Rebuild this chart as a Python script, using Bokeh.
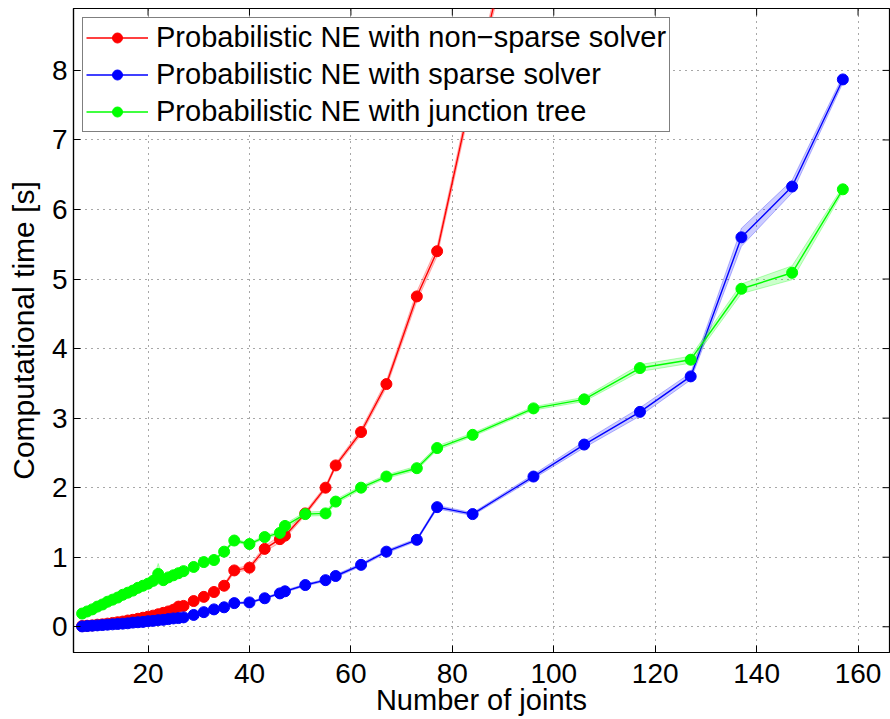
from bokeh.plotting import figure
from bokeh.models import Legend, LegendItem, Range1d, FixedTicker
from bokeh.embed import file_html
from bokeh.resources import INLINE

# ---- data ----
joints = [7, 8, 9, 10, 11, 12, 13, 14, 15, 16, 17, 18, 19, 20, 21, 22, 23, 24, 25, 26, 27,
          29, 31, 33, 35, 37, 40, 43, 46, 47, 51, 55, 57, 62, 67, 73, 77, 84, 96,
          106, 117, 127, 137, 147, 157]
joints_red = [7, 8, 9, 10, 11, 12, 13, 14, 15, 16, 17, 18, 19, 20, 21, 22, 23, 24, 25, 26, 27,
              29, 31, 33, 35, 37, 40, 43, 46, 47, 51, 55, 57, 62, 67, 73, 77, 84, 96]

time_nonsparse = [0.01, 0.015, 0.02, 0.03, 0.035, 0.045, 0.055, 0.065, 0.075, 0.09, 0.10,
                  0.115, 0.13, 0.145, 0.16, 0.18, 0.20, 0.22, 0.245, 0.29, 0.30,
                  0.37, 0.43, 0.50, 0.59, 0.81, 0.85, 1.12, 1.26, 1.31, 1.63, 2.00, 2.32,
                  2.80, 3.49, 4.75, 5.40, 7.72, 11.2]
spread_nonsparse = [0.005, 0.005, 0.005, 0.005, 0.005, 0.005, 0.006, 0.006, 0.007, 0.007, 0.008,
                    0.008, 0.009, 0.01, 0.01, 0.012, 0.012, 0.014, 0.02, 0.035, 0.025,
                    0.02, 0.02, 0.02, 0.025, 0.03, 0.03, 0.04, 0.05, 0.04, 0.03, 0.03, 0.03,
                    0.04, 0.05, 0.07, 0.07, 0.09, 0.1]

time_sparse = [0.005, 0.01, 0.015, 0.02, 0.025, 0.03, 0.035, 0.04, 0.045, 0.05, 0.06,
               0.065, 0.07, 0.08, 0.085, 0.095, 0.10, 0.11, 0.12, 0.125, 0.135,
               0.17, 0.21, 0.25, 0.28, 0.34, 0.35, 0.41, 0.48, 0.51, 0.60, 0.67, 0.73,
               0.89, 1.08, 1.25, 1.72, 1.62, 2.16, 2.62, 3.09, 3.60, 5.60, 6.33, 7.87]
spread_sparse = [0.004, 0.004, 0.004, 0.004, 0.004, 0.004, 0.004, 0.005, 0.005, 0.005, 0.005,
                 0.005, 0.006, 0.006, 0.006, 0.007, 0.007, 0.007, 0.008, 0.008, 0.008,
                 0.01, 0.01, 0.01, 0.01, 0.012, 0.012, 0.012, 0.015, 0.015, 0.015, 0.015, 0.02,
                 0.02, 0.02, 0.02, 0.025, 0.02, 0.03, 0.045, 0.06, 0.05, 0.13, 0.09, 0.05]

time_junction = [0.19, 0.22, 0.25, 0.29, 0.32, 0.36, 0.39, 0.42, 0.46, 0.49, 0.52,
                 0.56, 0.59, 0.62, 0.66, 0.76, 0.67, 0.71, 0.74, 0.77, 0.80,
                 0.86, 0.93, 0.96, 1.08, 1.24, 1.19, 1.29, 1.35, 1.45, 1.62, 1.63, 1.80,
                 2.00, 2.16, 2.28, 2.57, 2.76, 3.14, 3.27, 3.72, 3.84, 4.86, 5.09, 6.29]
spread_junction = [0.008, 0.008, 0.008, 0.008, 0.008, 0.008, 0.008, 0.008, 0.008, 0.008, 0.008,
                   0.008, 0.008, 0.01, 0.01, 0.15, 0.02, 0.015, 0.015, 0.015, 0.015,
                   0.015, 0.015, 0.02, 0.02, 0.02, 0.02, 0.02, 0.025, 0.03, 0.03, 0.03, 0.03,
                   0.025, 0.025, 0.03, 0.03, 0.025, 0.025, 0.03, 0.05, 0.05, 0.07, 0.1, 0.04]

labels = ["Probabilistic NE with non\u2212sparse solver",
          "Probabilistic NE with sparse solver",
          "Probabilistic NE with junction tree"]
colors = ["#ff0000", "#0000ff", "#00ff00"]
x_ticks = [20, 40, 60, 80, 100, 120, 140, 160]
y_ticks = [0, 1, 2, 3, 4, 5, 6, 7, 8]
x_title = "Number of joints"
y_title = "Computational time [s]"

FONT = "Liberation Sans"
X0, X1 = 5.3, 166.2
Y0, Y1 = -0.37, 8.89
W, H = 890, 719
BL, BR, BT, BB = 73, 1, 8, 67

p = figure(width=W, height=H, output_backend="svg", toolbar_location=None,
           x_range=Range1d(X0, X1), y_range=Range1d(Y0, Y1),
           min_border_left=BL, min_border_right=BR, min_border_top=BT, min_border_bottom=BB,
           x_axis_label=x_title, y_axis_label=y_title)
p.background_fill_color = "white"
p.border_fill_color = "white"
p.outline_line_color = "black"
p.outline_line_width = 1.2

for ax, ticks in ((p.xaxis[0], x_ticks), (p.yaxis[0], y_ticks)):
    ax.ticker = FixedTicker(ticks=ticks, minor_ticks=[])
    ax.major_tick_in = 7
    ax.major_tick_out = 0
    ax.axis_line_color = "black"
    ax.axis_line_width = 1.2
    ax.major_tick_line_color = "black"
    ax.major_label_text_font = FONT
    ax.major_label_text_font_size = "28px"
    ax.major_label_text_color = "black"
    ax.axis_label_text_font = FONT
    ax.axis_label_text_font_style = "normal"
    ax.axis_label_text_color = "black"
p.xaxis[0].axis_label_text_font_size = "29px"
p.yaxis[0].axis_label_text_font_size = "30px"
p.xaxis[0].major_label_standoff = 11
p.xaxis[0].axis_label_standoff = -2
p.yaxis[0].major_label_standoff = 6
p.yaxis[0].axis_label_standoff = 9

frame_w = W - BL - BR
frame_h = H - BT - BB

# inward ticks on the top and right edges of the box
tick_dx = 7 * (X1 - X0) / frame_w
tick_dy = 7 * (Y1 - Y0) / frame_h
p.segment(x0=x_ticks, y0=[Y1] * len(x_ticks), x1=x_ticks, y1=[Y1 - tick_dy] * len(x_ticks),
          line_color="black", line_width=1)
p.segment(x0=[X1] * len(y_ticks), y0=y_ticks, x1=[X1 - tick_dx] * len(y_ticks), y1=y_ticks,
          line_color="black", line_width=1)

for g in (p.xgrid[0], p.ygrid[0]):
    g.grid_line_color = "#333333"
    g.grid_line_dash = "1 5"
    g.grid_line_width = 1
    g.grid_line_alpha = 0.85
p.xgrid[0].ticker = FixedTicker(ticks=x_ticks)
p.ygrid[0].ticker = FixedTicker(ticks=y_ticks)

series = [(joints_red, time_nonsparse, spread_nonsparse),
          (joints, time_sparse, spread_sparse),
          (joints, time_junction, spread_junction)]

items = []
for (xs, ys, ss), col, lab in zip(series, colors, labels):
    lo = [y - s for y, s in zip(ys, ss)]
    hi = [y + s for y, s in zip(ys, ss)]
    p.varea(x=xs, y1=lo, y2=hi, fill_color=col, fill_alpha=0.2)
    p.line(xs, lo, line_color=col, line_alpha=0.35, line_width=0.8)
    p.line(xs, hi, line_color=col, line_alpha=0.35, line_width=0.8)
    lr = p.line(xs, ys, line_color=col, line_width=1.4)
    sr = p.scatter(xs, ys, size=11, marker="circle", fill_color=col, line_color=col)
    items.append(LegendItem(label=lab, renderers=[lr, sr]))

legend = Legend(items=items, location="top_left")
legend.margin = 9
legend.padding = 3
legend.spacing = 4
legend.glyph_width = 62
legend.glyph_height = 25
legend.label_height = 25
legend.label_standoff = 8
legend.label_text_font = FONT
legend.label_text_font_size = "29px"
legend.label_text_color = "black"
legend.border_line_color = "black"
legend.border_line_width = 1.5
legend.background_fill_color = "white"
legend.background_fill_alpha = 1.0
p.add_layout(legend)

open("out.html", "w").write(file_html(p, INLINE))
